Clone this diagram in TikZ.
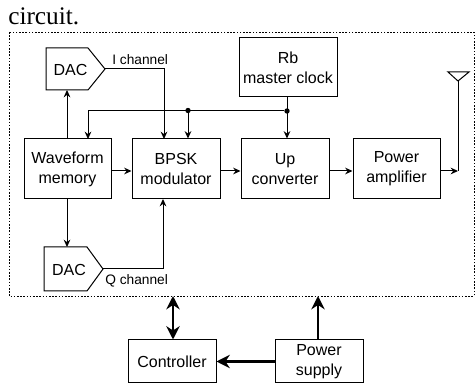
\documentclass[tikz,border=0pt]{standalone}
\usepackage{fontspec}
\setmainfont{Liberation Sans}
\newfontfamily\serifcap{Liberation Serif}
\usetikzlibrary{arrows.meta,calc}
\tikzset{
  block/.style={draw=black,line width=0.75pt,inner sep=0pt,align=center,font=\fontsize{12}{15}\selectfont},
  lab/.style={inner sep=0pt,font=\fontsize{10.3}{12}\selectfont},
  wire/.style={draw=black,line width=0.75pt},
  sig/.style={wire,-{Stealth[length=5.5pt,width=5pt]}},
  heavy/.style={draw=black,line width=2pt,-{Stealth[length=10pt,width=10pt]}},
  heavyboth/.style={draw=black,line width=2pt,{Stealth[length=10pt,width=10pt]}-{Stealth[length=10pt,width=10pt]}},
  dot/.style={circle,fill=black,inner sep=0pt,minimum size=4pt},
  frame/.style={draw=black,line width=0.7pt,dash pattern=on 1.2pt off 1.2pt}
}
\begin{document}
\begin{tikzpicture}[x=0.75pt,y=-0.75pt]
\useasboundingbox (0,0) rectangle (476,385);
\node[anchor=base west,inner sep=0pt,font=\fontsize{19}{21}\selectfont\serifcap] (cap) at (8,25) {circuit.};
\draw[frame] (9,32) rectangle (474,296);
\coordinate (fN) at (173,296);
\coordinate (fP) at (318,296);

\node[block,minimum width=65.25pt,minimum height=45pt] (wf) at (67.5,169) {Waveform\\memory};
\node[block,minimum width=66pt,minimum height=45pt] (bp) at (176,169) {BPSK\\modulator};
\node[block,minimum width=66pt,minimum height=45pt] (up) at (285,169) {Up\\converter};
\node[block,minimum width=65.25pt,minimum height=45pt] (pa) at (396.5,169) {Power\\amplifier};
\node[block,minimum width=73.5pt,minimum height=44.25pt] (rb) at (288,67.5) {Rb\\master clock};
\node[block,minimum width=66pt,minimum height=32.25pt] (ct) at (172,361.5) {Controller};
\node[block,minimum width=66pt,minimum height=32.25pt] (ps) at (319,361.5) {Power\\supply};

% DAC pentagons
\coordinate (d1tip) at (105,69);
\coordinate (d2tip) at (103,269);
\draw[wire,line join=miter] (46,48) -- (88,48) -- (d1tip) -- (88,90) -- (46,90) -- cycle;
\draw[wire,line join=miter] (44,247) -- (87,247) -- (d2tip) -- (87,291) -- (44,291) -- cycle;
\node[block,draw=none] (d1) at (70.5,69.5) {DAC};
\node[block,draw=none] (d2) at (69,269.5) {DAC};
\coordinate (d1s) at (67,90);
\coordinate (d2n) at (67,247);

\node[lab,anchor=base west] (ic) at (112,65) {I channel};
\node[lab,anchor=base west] (qc) at (105,285) {Q channel};

% antenna
\coordinate (ant) at (458,81);
\coordinate (antL) at (448,72);
\coordinate (antR) at (469,72);
\draw[wire,line join=miter] (antL) -- (antR) -- (ant) -- cycle;
\coordinate (antj) at (458,171);

% junctions
\node[dot] (j1) at (287,111) {};
\node[dot] (j2) at (188,110.5) {};

% signal wires
\draw[sig] (wf.north -| d1s) -- (d1s);
\draw[sig] (wf.south -| d2n) -- (d2n);
\draw[sig] (d1tip) -| (164,139);
\draw[sig] (d2tip) -| (163,199);
\draw[sig] (wf.east |- 0,171) -- (bp.west |- 0,171);
\draw[sig] (bp.east |- 0,171) -- (up.west |- 0,171);
\draw[sig] (up.east |- 0,171) -- (pa.west |- 0,171);
\draw[sig] (pa.east |- antj) -- (antj);
\draw[wire] (antj) -- (ant);
\draw[sig] (rb.south -| j1) -- (up.north -| j1);
\draw[sig] (j1) -- (88,111) -- (88,139);
\draw[sig] (j2) -- (bp.north -| j2);

% heavy arrows
\draw[heavyboth] (fN) -- (ct.north -| fN);
\draw[heavy] (ps.north -| fP) -- (fP);
\draw[heavy] (ps.west) -- (ct.east);
\end{tikzpicture}
\end{document}
